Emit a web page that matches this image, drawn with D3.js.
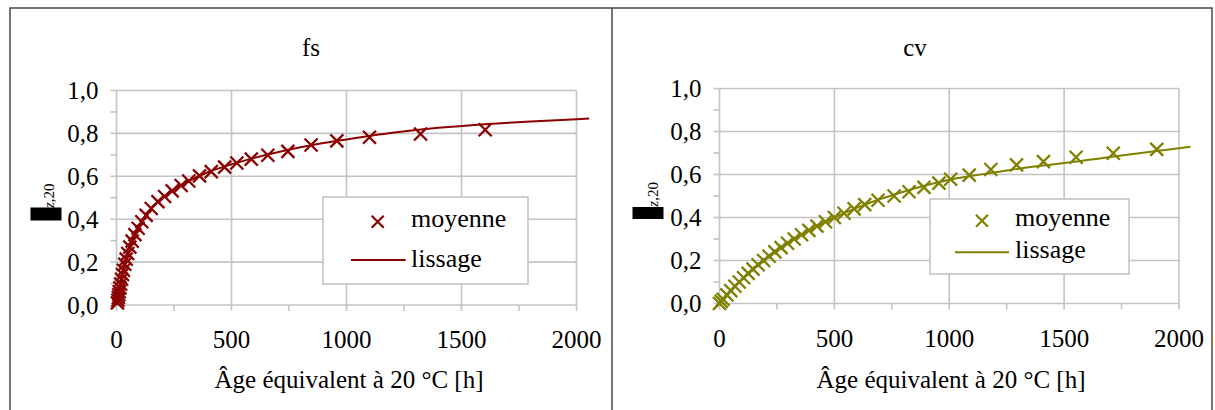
<!DOCTYPE html>
<html><head><meta charset="utf-8">
<script src="https://cdn.jsdelivr.net/npm/d3@7"></script>
<style>
body{margin:0;background:#fff}
svg{display:block}
</style>
</head><body>
<svg id="c" width="1215" height="410" font-family="'Liberation Serif', 'Times New Roman', 'DejaVu Serif', serif"></svg>
<script>
// ---- data ----
const xTickValues = [0, 500, 1000, 1500, 2000];
const xTickLabels = ["0", "500", "1000", "1500", "2000"];
const xMinorTicks = [0, 250, 500, 750, 1000, 1250, 1500, 1750, 2000];
const yTickValues = [0, 0.2, 0.4, 0.6, 0.8, 1.0];
const yTickLabels = ["0,0", "0,2", "0,4", "0,6", "0,8", "1,0"];
const yMinorTicks = [0, 0.1, 0.2, 0.3, 0.4, 0.5, 0.6, 0.7, 0.8, 0.9, 1.0];
const seriesNames = ["moyenne", "lissage"];
const xAxisTitle = "Âge équivalent à 20 °C [h]";
const panelTitles = ["fs", "cv"];

const fsTimes = [4, 6, 8, 10, 12, 15, 18, 22, 26, 30, 36, 42, 49, 58, 68, 80, 94, 110, 129, 151, 180, 209, 242, 281, 314, 361, 412, 470, 523, 586, 658, 745, 846, 958, 1100, 1322, 1603];
const fsMeans = [0.01, 0.022, 0.035, 0.048, 0.062, 0.08, 0.098, 0.12, 0.142, 0.162, 0.19, 0.214, 0.24, 0.27, 0.298, 0.328, 0.358, 0.388, 0.418, 0.45, 0.482, 0.506, 0.532, 0.557, 0.578, 0.602, 0.622, 0.643, 0.662, 0.68, 0.698, 0.716, 0.746, 0.765, 0.782, 0.797, 0.817];
const fsFitTimes = [0, 4, 10, 20, 30, 50, 75, 100, 150, 200, 250, 300, 400, 500, 600, 700, 800, 900, 1000, 1200, 1400, 1600, 1800, 2000, 2055];
const fsFitValues = [0, 0.01, 0.048, 0.11, 0.162, 0.245, 0.318, 0.37, 0.45, 0.5, 0.538, 0.57, 0.62, 0.656, 0.686, 0.712, 0.735, 0.755, 0.772, 0.803, 0.826, 0.843, 0.856, 0.866, 0.869];

const cvTimes = [0, 8, 16, 32, 49, 67, 86, 105, 125, 146, 168, 192, 216, 241, 268, 296, 325, 357, 389, 424, 461, 500, 542, 586, 632, 690, 760, 825, 890, 955, 1006, 1087, 1181, 1293, 1410, 1552, 1714, 1903];
const cvMeans = [0, 0.01, 0.02, 0.04, 0.06, 0.08, 0.10, 0.12, 0.14, 0.16, 0.18, 0.20, 0.22, 0.24, 0.26, 0.28, 0.30, 0.32, 0.34, 0.36, 0.38, 0.40, 0.42, 0.44, 0.46, 0.48, 0.50, 0.52, 0.54, 0.56, 0.578, 0.597, 0.623, 0.645, 0.66, 0.68, 0.699, 0.717];
const cvFitTimes = [0, 25, 50, 100, 150, 200, 250, 300, 400, 500, 600, 700, 800, 900, 1000, 1100, 1200, 1300, 1400, 1500, 1600, 1700, 1800, 1900, 2000, 2050];
const cvFitValues = [0, 0.031, 0.061, 0.115, 0.163, 0.207, 0.247, 0.283, 0.346, 0.40, 0.446, 0.486, 0.52, 0.55, 0.576, 0.594, 0.61, 0.627, 0.641, 0.653, 0.667, 0.681, 0.695, 0.709, 0.722, 0.729];

// ---- layout / style ----
const svg = d3.select("#c");
const FONT = 25;
const GRID = "#c4c4c4";

const frame = svg.append("g").attr("stroke", "#4a4a4a").attr("stroke-width", 1.5).attr("fill", "none");
frame.append("path").attr("d", "M10,410V8H1212V410M612,8V410");

const panels = [
  { title: panelTitles[0], color: "#8b0000", times: fsTimes, means: fsMeans, fitT: fsFitTimes, fitV: fsFitValues,
    x0: 116.5, x1: 576.5, yTop: 90.5, yBot: 305, titleX: 311, axisTitleX: 349,
    leg: { x: 323, y: 197, w: 205, h: 87, mx: 377.7, my: 221.7, lx0: 351, lx1: 405.7, ly: 260, tx: 411, t1: 227, t2: 267 },
    rect: { x: 30.5, y: 207.5, w: 31, h: 13 }, zx: 54, zy: 208 },
  { title: panelTitles[1], color: "#808000", times: cvTimes, means: cvMeans, fitT: cvFitTimes, fitV: cvFitValues,
    x0: 719.5, x1: 1179, yTop: 88.5, yBot: 303.5, titleX: 915, axisTitleX: 951,
    leg: { x: 930, y: 199, w: 199, h: 75, mx: 982, my: 220.7, lx0: 955, lx1: 1009, ly: 252.3, tx: 1015, t1: 226, t2: 258 },
    rect: { x: 632.5, y: 207, w: 31, h: 12 }, zx: 658, zy: 206.7 }
];

panels.forEach(p => {
  const g = svg.append("g");
  const x = d3.scaleLinear().domain([0, 2000]).range([p.x0, p.x1]);
  const y = d3.scaleLinear().domain([0, 1]).range([p.yBot, p.yTop]);

  g.append("g").selectAll("line").data(yTickValues).join("line")
    .attr("x1", p.x0).attr("x2", p.x1).attr("y1", d => y(d)).attr("y2", d => y(d))
    .attr("stroke", GRID).attr("stroke-width", 1.6);
  g.append("g").selectAll("line").data(xTickValues).join("line")
    .attr("x1", d => x(d)).attr("x2", d => x(d)).attr("y1", p.yTop).attr("y2", p.yBot)
    .attr("stroke", GRID).attr("stroke-width", 1.6);

  g.append("g").selectAll("line").data(yMinorTicks).join("line")
    .attr("x1", p.x0 - 6).attr("x2", p.x0).attr("y1", d => y(d)).attr("y2", d => y(d))
    .attr("stroke", GRID).attr("stroke-width", 1.6);
  g.append("g").selectAll("line").data(xMinorTicks).join("line")
    .attr("x1", d => x(d)).attr("x2", d => x(d)).attr("y1", p.yBot).attr("y2", p.yBot + 6)
    .attr("stroke", GRID).attr("stroke-width", 1.6);

  g.append("g").selectAll("text").data(yTickValues).join("text")
    .attr("x", p.x0 - 18).attr("y", d => y(d) + 8.5).attr("text-anchor", "end")
    .attr("font-size", FONT).text((d, i) => yTickLabels[i]);
  g.append("g").selectAll("text").data(xTickValues).join("text")
    .attr("x", d => x(d)).attr("y", p.yBot + 43).attr("text-anchor", "middle")
    .attr("font-size", FONT).text((d, i) => xTickLabels[i]);

  g.append("text").attr("x", p.titleX).attr("y", 56).attr("text-anchor", "middle")
    .attr("font-size", FONT).text(p.title);
  g.append("text").attr("x", p.axisTitleX).attr("y", 388).attr("text-anchor", "middle")
    .attr("font-size", FONT).text(xAxisTitle);

  g.append("rect").attr("x", p.rect.x).attr("y", p.rect.y).attr("width", p.rect.w).attr("height", p.rect.h).attr("fill", "#000");
  const zt = g.append("text").attr("transform", `translate(${p.zx},${p.zy}) rotate(-90)`).attr("font-size", 15);
  zt.append("tspan").attr("font-style", "italic").text("z");
  zt.append("tspan").text(",20");

  const line = d3.line().x(d => x(d[0])).y(d => y(d[1])).curve(d3.curveMonotoneX);
  g.append("path").datum(p.fitT.map((t, i) => [t, p.fitV[i]]))
    .attr("d", line).attr("fill", "none").attr("stroke", p.color).attr("stroke-width", 2);

  const xm = "M-6.5,-6.5L6.5,6.5M-6.5,6.5L6.5,-6.5";
  g.append("g").selectAll("path").data(p.times.map((t, i) => [t, p.means[i]])).join("path")
    .attr("transform", d => `translate(${x(d[0])},${y(d[1])})`)
    .attr("d", xm).attr("stroke", p.color).attr("stroke-width", 2.3).attr("fill", "none");

  const L = p.leg;
  g.append("rect").attr("x", L.x).attr("y", L.y).attr("width", L.w).attr("height", L.h)
    .attr("fill", "#fff").attr("stroke", GRID).attr("stroke-width", 1.6);
  g.append("path").attr("transform", `translate(${L.mx},${L.my})`).attr("d", "M-6,-6L6,6M-6,6L6,-6")
    .attr("stroke", p.color).attr("stroke-width", 2.2).attr("fill", "none");
  g.append("line").attr("x1", L.lx0).attr("x2", L.lx1).attr("y1", L.ly).attr("y2", L.ly)
    .attr("stroke", p.color).attr("stroke-width", 2);
  g.append("text").attr("x", L.tx).attr("y", L.t1).attr("font-size", 26).text(seriesNames[0]);
  g.append("text").attr("x", L.tx).attr("y", L.t2).attr("font-size", 26).text(seriesNames[1]);
});
</script>
</body></html>
